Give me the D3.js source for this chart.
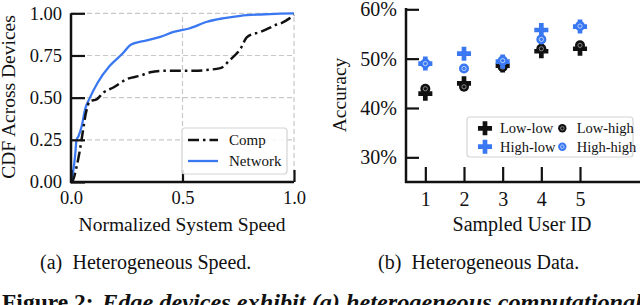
<!DOCTYPE html>
<html>
<head>
<meta charset="utf-8">
<script src="https://cdn.jsdelivr.net/npm/d3@7"></script>
<style>
  body { margin: 0; background: #fff; }
  text { font-family: "Liberation Serif", "Times New Roman", serif; fill: #111; }
</style>
</head>
<body>
<div id="chart"></div>
<script>
// CDF curves, [normalized speed, fraction of devices]
const cdfComp = [[0, 0], [0.004, 0], [0.025, 0.09], [0.04, 0.19], [0.052, 0.29], [0.067, 0.41],
    [0.085, 0.48], [0.115, 0.49], [0.145, 0.53], [0.19, 0.56], [0.25, 0.61], [0.31, 0.63],
    [0.355, 0.65], [0.43, 0.66], [0.55, 0.66], [0.67, 0.675], [0.71, 0.72], [0.76, 0.79],
    [0.79, 0.86], [0.85, 0.89], [0.885, 0.91], [0.915, 0.93], [0.94, 0.94], [0.98, 0.97], [1.0, 0.99]];
const cdfNetwork = [[0, 0], [0.004, 0.02], [0.018, 0.15], [0.025, 0.25], [0.033, 0.27], [0.048, 0.33],
    [0.063, 0.43], [0.085, 0.5], [0.12, 0.59], [0.175, 0.69], [0.23, 0.76], [0.27, 0.815],
    [0.34, 0.84], [0.4, 0.86], [0.46, 0.89], [0.53, 0.91], [0.61, 0.95], [0.68, 0.97],
    [0.76, 0.985], [0.85, 0.993], [0.94, 0.998], [1.0, 1.0]];
const speedTicks = [0, 0.5, 1.0];
const cdfTicks = [0, 0.25, 0.5, 0.75, 1.0];

// accuracy per sampled user (%)
const userIds = [1, 2, 3, 4, 5];
const lowLow = [42.9, 45.0, 48.6, 51.5, 52.0];
const lowHigh = [43.9, 44.3, 48.3, 52.0, 52.7];
const highLow = [49.0, 51.0, 49.4, 55.8, 56.5];
const highHigh = [49.0, 48.0, 49.6, 53.9, 56.6];
const accTicks = [30, 40, 50, 60];

const black = '#111';
const blue = '#3a78f2';

const svg = d3.select('#chart').append('svg')
    .attr('width', 640)
    .attr('height', 305);

// ---------- (a) CDF ----------
const x1 = d3.scaleLinear().domain([0, 1]).range([71, 294]);
const y1 = d3.scaleLinear().domain([0, 1]).range([182, 13.3]);
const left = svg.append('g');

// dashed grid
left.selectAll('.hgrid')
    .data(cdfTicks)
    .join('line')
    .attr('x1', x1(0)).attr('x2', x1(1))
    .attr('y1', d => y1(d)).attr('y2', d => y1(d))
    .attr('stroke', '#c8c8c8').attr('stroke-width', 1.2).attr('stroke-dasharray', '5,3');
left.selectAll('.vgrid')
    .data(speedTicks)
    .join('line')
    .attr('x1', d => x1(d)).attr('x2', d => x1(d))
    .attr('y1', y1(0)).attr('y2', y1(1))
    .attr('stroke', '#c8c8c8').attr('stroke-width', 1.2).attr('stroke-dasharray', '5,3');

const line1 = d3.line().x(d => x1(d[0])).y(d => y1(d[1])).curve(d3.curveMonotoneX);
left.append('path')
    .attr('d', line1(cdfNetwork))
    .attr('fill', 'none').attr('stroke', blue).attr('stroke-width', 2.3);
left.append('path')
    .attr('d', line1(cdfComp))
    .attr('fill', 'none').attr('stroke', black).attr('stroke-width', 2.5)
    .attr('stroke-dasharray', '11,4,2.5,4');

// axes
const xAxis1 = left.append('g')
    .attr('transform', `translate(0,${y1(0)})`)
    .call(d3.axisBottom(x1).tickValues(speedTicks).tickFormat(d3.format('.1f'))
        .tickSize(-12).tickPadding(9));
const yAxis1 = left.append('g')
    .attr('transform', `translate(${x1(0)},0)`)
    .call(d3.axisLeft(y1).tickValues(cdfTicks).tickFormat(d3.format('.2f'))
        .tickSize(-14).tickPadding(9));
[xAxis1, yAxis1].forEach(a => {
    a.select('.domain').remove();
    a.selectAll('line').attr('stroke', black).attr('stroke-width', 2.2);
    a.selectAll('text').attr('font-size', 18.5).attr('fill', black)
        .style('font-family', '"Liberation Serif", serif');
});
// spines
left.append('line').attr('x1', x1(0)).attr('x2', x1(0)).attr('y1', y1(0) + 1).attr('y2', y1(1))
    .attr('stroke', black).attr('stroke-width', 2.5);
left.append('line').attr('x1', x1(0) - 1).attr('x2', x1(1)).attr('y1', y1(0)).attr('y2', y1(0))
    .attr('stroke', black).attr('stroke-width', 2.5);

// legend
left.append('rect')
    .attr('x', 182).attr('y', 128).attr('width', 105).attr('height', 46).attr('rx', 3)
    .attr('fill', '#fff').attr('fill-opacity', 0.85).attr('stroke', '#d4d4d4').attr('stroke-width', 1.2);
const legend1 = [
    { name: 'Comp', color: black, dash: '11,4,2.5,4', w: 2.5 },
    { name: 'Network', color: blue, dash: null, w: 2.3 }
];
legend1.forEach((d, i) => {
    const yy = 140 + i * 21;
    left.append('line').attr('x1', 188).attr('x2', 218).attr('y1', yy).attr('y2', yy)
        .attr('stroke', d.color).attr('stroke-width', d.w).attr('stroke-dasharray', d.dash);
    left.append('text').attr('x', 229).attr('y', yy + 5).attr('font-size', 15).text(d.name);
});

left.append('text')
    .attr('x', 182).attr('y', 231).attr('text-anchor', 'middle').attr('font-size', 19.5)
    .text('Normalized System Speed');
left.append('text')
    .attr('transform', 'translate(15,97) rotate(-90)')
    .attr('text-anchor', 'middle').attr('font-size', 19.5)
    .text('CDF Across Devices');

// ---------- (b) accuracy ----------
const x2 = d3.scaleLinear().domain([0.5, 6.5]).range([406, 638]);
const y2 = d3.scaleLinear().domain([25, 60]).range([182, 9.3]);
const right = svg.append('g');

const xAxis2 = right.append('g')
    .attr('transform', `translate(0,${y2(25)})`)
    .call(d3.axisBottom(x2).tickValues(userIds).tickFormat(d3.format('d'))
        .tickSize(-15).tickPadding(10));
const yAxis2 = right.append('g')
    .attr('transform', `translate(${x2(0.5)},0)`)
    .call(d3.axisLeft(y2).tickValues(accTicks).tickFormat(d => d + '%')
        .tickSize(-13).tickPadding(9));
[xAxis2, yAxis2].forEach(a => {
    a.select('.domain').remove();
    a.selectAll('line').attr('stroke', black).attr('stroke-width', 2.2);
    a.selectAll('text').attr('font-size', 20).attr('fill', black)
        .style('font-family', '"Liberation Serif", serif');
});
right.append('line').attr('x1', x2(0.5)).attr('x2', x2(0.5)).attr('y1', y2(25) + 1).attr('y2', 8)
    .attr('stroke', black).attr('stroke-width', 2.5);
right.append('line').attr('x1', x2(0.5) - 1).attr('x2', 640).attr('y1', y2(25)).attr('y2', y2(25))
    .attr('stroke', black).attr('stroke-width', 2.5);

const cross = d3.symbol(d3.symbolCross, 110);
const ring = (g, color, inner, r) => {
    g.append('circle').attr('r', r).attr('fill', color);
    g.append('circle').attr('r', r * 0.42).attr('fill', 'none')
        .attr('stroke', inner).attr('stroke-width', 1);
};
const seriesB = [
    { name: 'Low-low', values: lowLow, color: black, inner: '#888', shape: 'cross' },
    { name: 'Low-high', values: lowHigh, color: black, inner: '#888', shape: 'circle' },
    { name: 'High-low', values: highLow, color: blue, inner: '#b8d0ff', shape: 'cross' },
    { name: 'High-high', values: highHigh, color: blue, inner: '#b8d0ff', shape: 'circle' }
];
seriesB.forEach(s => {
    s.values.forEach((v, i) => {
        const g = right.append('g')
            .attr('transform', `translate(${x2(userIds[i])},${y2(v)})`);
        if (s.shape === 'cross') g.append('path').attr('d', cross()).attr('fill', s.color);
        else ring(g, s.color, s.inner, 5);
    });
});

// legend
right.append('rect')
    .attr('x', 467).attr('y', 117).attr('width', 166).attr('height', 40).attr('rx', 3)
    .attr('fill', '#fff').attr('fill-opacity', 0.85).attr('stroke', '#d4d4d4').attr('stroke-width', 1.2);
seriesB.forEach((s, i) => {
    const col = i % 2, row = Math.floor(i / 2);
    const mx = col === 0 ? 485 : 562.3;
    const my = 128.3 + row * 18.4;
    const g = right.append('g').attr('transform', `translate(${mx},${my})`);
    if (s.shape === 'cross') g.append('path').attr('d', cross()).attr('fill', s.color);
    else ring(g, s.color, s.inner, 4.2);
    right.append('text').attr('x', mx + (col === 0 ? 15 : 14.4)).attr('y', my + 5)
        .attr('font-size', 14.5).text(s.name);
});

right.append('text')
    .attr('x', 522).attr('y', 231).attr('text-anchor', 'middle').attr('font-size', 20)
    .text('Sampled User ID');
right.append('text')
    .attr('transform', 'translate(346,95) rotate(-90)')
    .attr('text-anchor', 'middle').attr('font-size', 19.5)
    .text('Accuracy');

// ---------- captions ----------
svg.append('text').attr('x', 40).attr('y', 269).attr('font-size', 20).text('(a)');
svg.append('text').attr('x', 72.5).attr('y', 269).attr('font-size', 20).text('Heterogeneous Speed.');
svg.append('text').attr('x', 378).attr('y', 269).attr('font-size', 20).text('(b)');
svg.append('text').attr('x', 411.5).attr('y', 269).attr('font-size', 20).text('Heterogeneous Data.');
svg.append('text').attr('x', 2).attr('y', 310).attr('font-size', 23.5).attr('font-weight', 'bold')
    .text('Figure 2:');
svg.append('text').attr('x', 102).attr('y', 310).attr('font-size', 24).attr('font-weight', 'bold')
    .attr('font-style', 'italic')
    .attr('textLength', 540).attr('lengthAdjust', 'spacingAndGlyphs')
    .text('Edge devices exhibit (a) heterogeneous computational');
</script>
</body>
</html>
